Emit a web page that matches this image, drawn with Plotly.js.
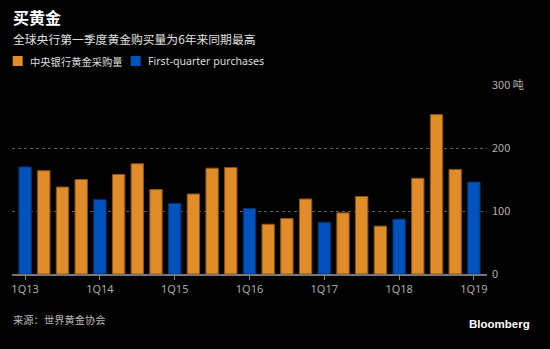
<!DOCTYPE html>
<html>
<head>
<meta charset="utf-8">
<script src="https://cdn.plot.ly/plotly-3.0.1.min.js"></script>
<style>
html,body{margin:0;padding:0;background:#000;}
#chart{width:550px;height:349px;}
</style>
</head>
<body>
<div id="chart"></div>
<script>
const quarters = [
  "1Q13","2Q13","3Q13","4Q13",
  "1Q14","2Q14","3Q14","4Q14",
  "1Q15","2Q15","3Q15","4Q15",
  "1Q16","2Q16","3Q16","4Q16",
  "1Q17","2Q17","3Q17","4Q17",
  "1Q18","2Q18","3Q18","4Q18",
  "1Q19"
];
const purchases = [
  170,164,138,150,
  118,158,175,134,
  112,127,168,169,
  104,79,88,119,
  82,97,123,76,
  87,152,253,166,
  146
];
const tickLabels = ["1Q13","1Q14","1Q15","1Q16","1Q17","1Q18","1Q19"];
const yTickVals = [0,100,200,300];
const yTickText = ["0","100","200","300 吨"];
const seriesNames = ["中央银行黄金采购量","First-quarter purchases"];
const seriesColors = ["#E08C28","#0053BD"];
const seriesLines = ["#8a5516","#00306e"];

const isQ1 = quarters.map(q => q.startsWith("1Q"));
const idx = quarters.map((q,i)=>i);
const otherX = idx.filter(i=>!isQ1[i]);
const q1X = idx.filter(i=>isQ1[i]);

const font = "Noto Sans, Noto Sans CJK SC, sans-serif";
const cjk = "Noto Sans CJK SC, Noto Sans, sans-serif";

const BW = 0.66;
const traces = [
  {
    type:'bar', name: seriesNames[0],
    x: otherX, y: otherX.map(i=>purchases[i]), width: BW,
    marker:{color:seriesColors[0], line:{color:seriesLines[0], width:1}},
    hoverinfo:'skip'
  },
  {
    type:'bar', name: seriesNames[1],
    x: q1X, y: q1X.map(i=>purchases[i]), width: BW,
    marker:{color:seriesColors[1], line:{color:seriesLines[1], width:1}},
    hoverinfo:'skip'
  }
];

// pixel helpers for layout decoration (plot area: x 12..487, y 85..274)
const PL = 12, PW = 475, PB = 274, PH = 189;
const px = v => (v - PL) / PW;
const py = v => (PB - v) / PH;

const layout = {
  width:550, height:349,
  paper_bgcolor:'#000', plot_bgcolor:'#000',
  margin:{l:PL, r:550-PL-PW, t:PB-PH, b:349-PB},
  barmode:'overlay',
  font:{family:font, color:'#ccc', size:11},
  showlegend:false,
  xaxis:{
    range:[-0.7,24.7],
    tickmode:'array',
    tickvals: tickLabels.map(t=>quarters.indexOf(t)),
    ticktext: tickLabels,
    ticks:'outside', ticklen:4, tickcolor:'#888', tickwidth:1,
    tickfont:{family:font, size:11, color:'#aaa'},
    showgrid:false, zeroline:false,
    showline:true, linecolor:'#777', linewidth:1.5,
    fixedrange:true
  },
  yaxis:{
    range:[0,300], side:'right',
    tickmode:'array', tickvals:yTickVals, ticktext:yTickText,
    tickfont:{family:cjk, size:11, color:'#b0b0b0'},
    ticks:'', ticklabelstandoff:4,
    showgrid:true, gridcolor:'#5a5a5a', griddash:'dot', gridwidth:1,
    zeroline:false, showline:false,
    fixedrange:true
  },
  shapes:[
    {type:'rect', xref:'paper', yref:'paper', x0:px(12.7), x1:px(22.7), y0:py(56), y1:py(66),
     fillcolor:seriesColors[0], line:{width:0}},
    {type:'rect', xref:'paper', yref:'paper', x0:px(130.7), x1:px(140.7), y0:py(56), y1:py(66),
     fillcolor:seriesColors[1], line:{width:0}}
  ],
  annotations:[
    {text:'<b>买黄金</b>', xref:'paper', yref:'paper', x:px(11.5), y:py(17.5), xanchor:'left', yanchor:'middle',
     showarrow:false, borderpad:0, font:{family:cjk, size:16, color:'#fff'}},
    {text:'全球央行第一季度黄金购买量为6年来同期最高', xref:'paper', yref:'paper', x:px(11.5), y:py(38), xanchor:'left', yanchor:'middle',
     showarrow:false, borderpad:0, font:{family:cjk, size:11.8, color:'#e0e0e0'}},
    {text:seriesNames[0], xref:'paper', yref:'paper', x:px(28.3), y:py(61), xanchor:'left', yanchor:'middle',
     showarrow:false, font:{family:cjk, size:10.3, color:'#ddd'}},
    {text:seriesNames[1], xref:'paper', yref:'paper', x:px(145.7), y:py(61), xanchor:'left', yanchor:'middle',
     showarrow:false, font:{family:font, size:10.6, color:'#ddd'}},
    {text:'来源：世界黄金协会', xref:'paper', yref:'paper', x:px(11), y:py(319), xanchor:'left', yanchor:'middle',
     showarrow:false, font:{family:cjk, size:10.3, color:'#bbb'}},
    {text:'<b>Bloomberg</b>', xref:'paper', yref:'paper', x:px(532), y:py(324), xanchor:'right', yanchor:'middle',
     showarrow:false, font:{family:'Liberation Sans, Arial, sans-serif', size:11.5, color:'#fff'}}
  ]
};

Plotly.newPlot('chart', traces, layout, {staticPlot:true, displayModeBar:false});
</script>
</body>
</html>
